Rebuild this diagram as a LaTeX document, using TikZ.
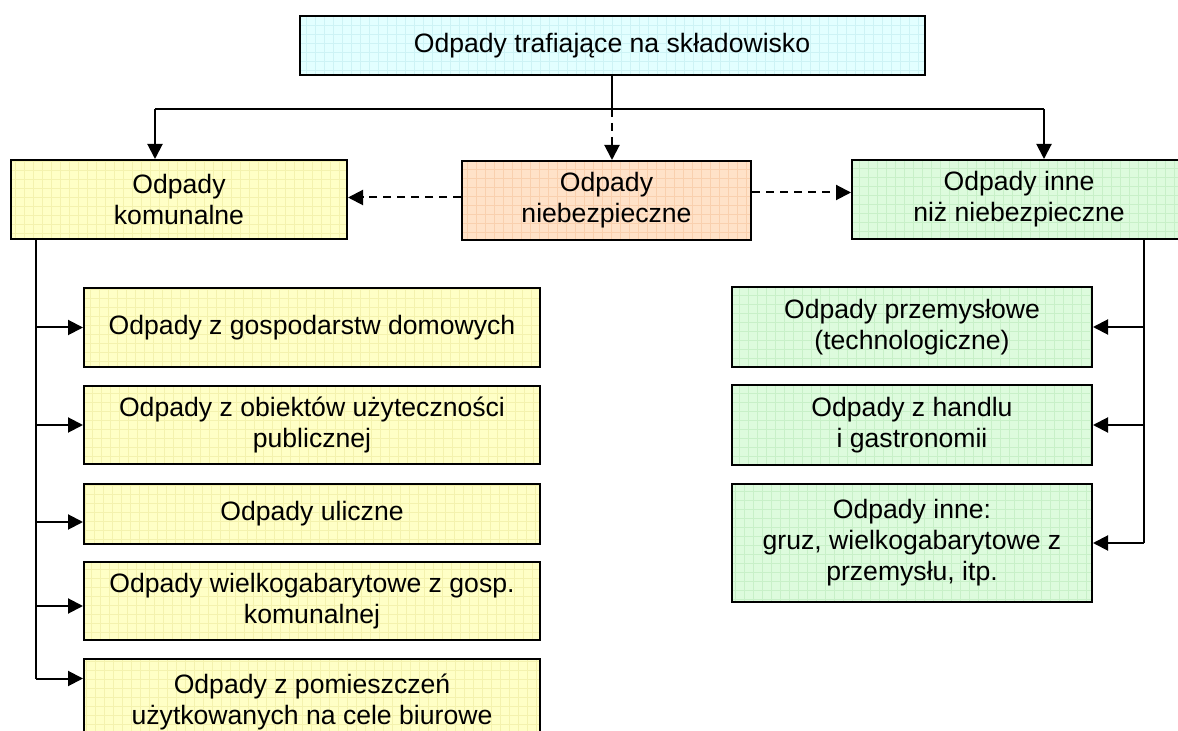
\documentclass[tikz,border=0pt]{standalone}
\usepackage{fontspec}
\setmainfont{Liberation Sans}
\usetikzlibrary{arrows.meta}

\definecolor{cyanfill}{HTML}{E2FFFF}
\definecolor{cyangrid}{HTML}{CDF3F5}
\definecolor{yelfill}{HTML}{FFFFC6}
\definecolor{yelgrid}{HTML}{F4F2AE}
\definecolor{peachfill}{HTML}{FFE2C8}
\definecolor{peachgrid}{HTML}{F9D0AE}
\definecolor{greenfill}{HTML}{DDFBDD}
\definecolor{greengrid}{HTML}{C8F0C8}

\tikzset{
  box/.style={rectangle, draw=black, line width=1pt, inner sep=0pt, align=center,
    font=\fontsize{13.3}{15.5}\selectfont},
  gridfill/.style 2 args={fill=#1,
    path picture={\draw[#2, line width=0.35pt]
      (path picture bounding box.south west) grid[step=4.5pt]
      (path picture bounding box.north east);}},
  cyanbox/.style={box, gridfill={cyanfill}{cyangrid}},
  yelbox/.style={box, gridfill={yelfill}{yelgrid}},
  peachbox/.style={box, gridfill={peachfill}{peachgrid}},
  greenbox/.style={box, gridfill={greenfill}{greengrid}},
  link/.style={line width=1pt},
  arr/.style={link, -{Triangle[length=7.5pt,width=7.5pt]}},
  dasharr/.style={arr, dash pattern=on 4pt off 3pt},
}

\begin{document}
\begin{tikzpicture}[x=0.5pt, y=-0.5pt]
\useasboundingbox (0,0) rectangle (1178,731);

% top level
\node[cyanbox, minimum width=312.5pt, minimum height=29.5pt] (top) at (612,45.5)
  {Odpady trafiające na składowisko};

% three main categories
\node[yelbox, minimum width=168pt, minimum height=39.5pt] (kom) at (179,199.5)
  {Odpady\\komunalne};
\node[peachbox, minimum width=144.5pt, minimum height=39.5pt] (nieb) at (606.5,200.5)
  {Odpady\\niebezpieczne};
\node[greenbox, minimum width=167pt, minimum height=39.5pt] (inne) at (1019,199.5)
  {Odpady inne\\niż niebezpieczne};

% municipal waste subgroups
\node[yelbox, minimum width=228pt, minimum height=39.5pt] (L1) at (312,327.5)
  {Odpady z gospodarstw domowych};
\node[yelbox, minimum width=228pt, minimum height=39pt] (L2) at (312,425)
  {Odpady z obiektów użyteczności\\publicznej};
\node[yelbox, minimum width=228pt, minimum height=30pt] (L3) at (312,514)
  {Odpady uliczne};
\node[yelbox, minimum width=228pt, minimum height=39pt] (L4) at (312,601)
  {Odpady wielkogabarytowe z gosp.\\komunalnej};
\node[yelbox, minimum width=228pt, minimum height=42.5pt] (L5) at (312,702)
  {Odpady z pomieszczeń\\użytkowanych na cele biurowe};

% other (non-hazardous) waste subgroups
\node[greenbox, minimum width=180pt, minimum height=40pt] (R1) at (912,327)
  {Odpady przemysłowe\\(technologiczne)};
\node[greenbox, minimum width=180pt, minimum height=40pt] (R2) at (912,425)
  {Odpady z handlu\\i gastronomii};
\node[greenbox, minimum width=180pt, minimum height=59pt] (R3) at (912,543)
  {Odpady inne:\\gruz, wielkogabarytowe z\\przemysłu, itp.};

% distribution bar under the top box
\coordinate (j)  at (top.south |- 0,109);
\coordinate (jl) at (155,109);
\coordinate (jr) at (1044,109);
\draw[link] (top.south) -- (j);
\draw[link] (jl) -- (jr);
\draw[arr] (jl) -- (jl |- kom.north);
\draw[arr] (jr) -- (jr |- inne.north);
\draw[dasharr] (j) -- (j |- nieb.north);

% hazardous waste may occur in both other groups
\draw[dasharr] ([yshift=1.5pt]nieb.west) -- ([yshift=1.5pt]nieb.west -| kom.east);
\draw[dasharr] ([yshift=4pt]nieb.east) -- ([yshift=4pt]nieb.east -| inne.west);

% left trunk
\coordinate (lt) at ([xshift=13pt]kom.south west);
\coordinate (l5) at ([yshift=-10pt]L5.north west);
\draw[link] (lt) -- (lt |- l5);
\draw[arr] (lt |- L1.west) -- (L1.west);
\draw[arr] (lt |- L2.west) -- (L2.west);
\draw[arr] ([yshift=-4pt]lt |- L3.west) -- ([yshift=-4pt]L3.west);
\draw[arr] ([yshift=-2.5pt]lt |- L4.west) -- ([yshift=-2.5pt]L4.west);
\draw[arr] (lt |- l5) -- (l5);

% right trunk
\coordinate (rt) at ([xshift=-21.5pt]inne.south east);
\draw[link] (rt) -- (rt |- R3.east);
\draw[arr] (rt |- R1.east) -- (R1.east);
\draw[arr] (rt |- R2.east) -- (R2.east);
\draw[arr] (rt |- R3.east) -- (R3.east);
\end{tikzpicture}
\end{document}
